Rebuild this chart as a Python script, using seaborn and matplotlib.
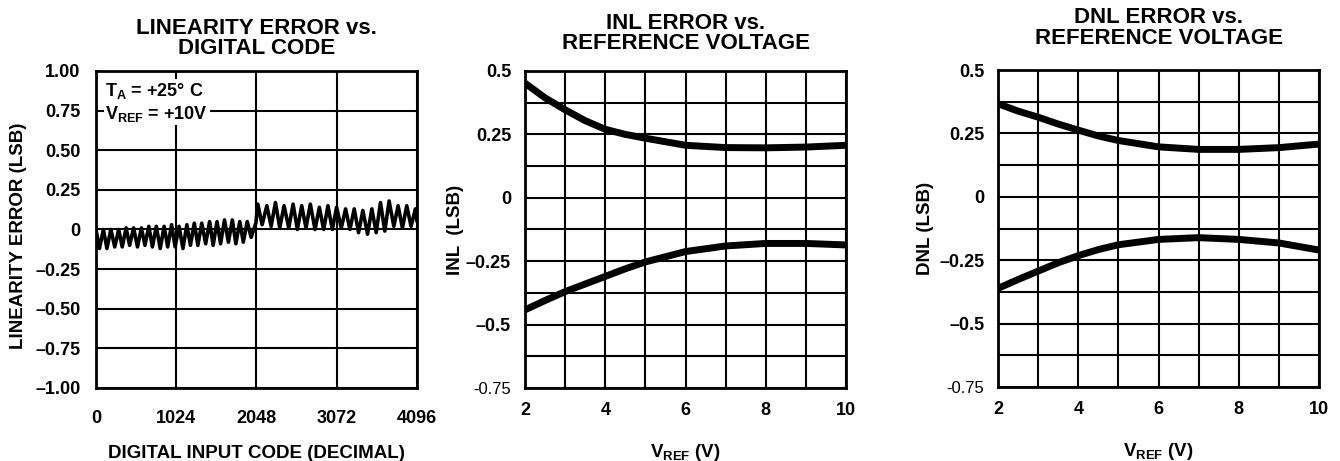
import pandas as pd
import matplotlib
matplotlib.use("Agg")
import matplotlib.pyplot as plt
import seaborn as sns

# ---- Linearity error vs. digital code (zigzag trace vertices) ----
peak_code = [0, 95, 190, 290, 385, 480, 580, 675, 770, 870, 965, 1060, 1160, 1255,
             1350, 1450, 1545, 1640, 1740, 1835, 1930, 2040,
             2065, 2180, 2290, 2400, 2515, 2625, 2735, 2850, 2960, 3070, 3185,
             3295, 3405, 3520, 3630, 3740, 3855, 3965, 4075]
peak_lsb = [0.0, 0.0, 0.0, 0.0, 0.01, 0.01, 0.01, 0.02, 0.02, 0.02, 0.03, 0.02, 0.03, 0.04,
            0.04, 0.05, 0.05, 0.06, 0.06, 0.05, 0.05, 0.04,
            0.16, 0.15, 0.17, 0.15, 0.16, 0.15, 0.16, 0.14, 0.15, 0.14, 0.13,
            0.13, 0.12, 0.13, 0.17, 0.18, 0.15, 0.15, 0.13]
trough_code = [45, 140, 240, 335, 430, 530, 625, 720, 820, 915, 1010, 1110, 1205,
               1300, 1400, 1495, 1590, 1690, 1785, 1880, 1980,
               2120, 2235, 2345, 2460, 2570, 2680, 2795, 2905, 3015, 3130, 3240,
               3350, 3465, 3575, 3685, 3800, 3910, 4020, 4096]
trough_lsb = [-0.12, -0.12, -0.11, -0.11, -0.10, -0.11, -0.10, -0.11, -0.12, -0.11, -0.11, -0.12, -0.10,
              -0.10, -0.09, -0.10, -0.09, -0.08, -0.09, -0.08, -0.05,
              0.03, 0.02, 0.01, 0.01, 0.00, 0.01, 0.00, 0.00, 0.00, 0.01, 0.00,
              -0.02, -0.03, -0.02, -0.01, 0.02, 0.01, 0.02, 0.05]

lin_ticks = [0, 1024, 2048, 3072, 4096]
lin_yticks = [-1.0, -0.75, -0.5, -0.25, 0, 0.25, 0.5, 0.75, 1.0]
lin_ylabels = ['\u20131.00', '\u20130.75', '\u20130.50', '\u20130.25', '0',
               '0.25', '0.50', '0.75', '1.00']

# ---- INL / DNL vs. reference voltage ----
vref = [2, 2.5, 3, 3.5, 4, 4.5, 5, 6, 7, 8, 9, 10]
inl_pos = [0.452, 0.394, 0.347, 0.304, 0.270, 0.250, 0.235, 0.207, 0.198, 0.197, 0.200, 0.207]
inl_neg = [-0.442, -0.405, -0.370, -0.340, -0.310, -0.280, -0.253, -0.212, -0.190, -0.180, -0.180, -0.186]
dnl_pos = [0.367, 0.338, 0.314, 0.287, 0.263, 0.240, 0.222, 0.197, 0.187, 0.187, 0.194, 0.208]
dnl_neg = [-0.361, -0.326, -0.293, -0.260, -0.232, -0.208, -0.189, -0.168, -0.161, -0.168, -0.182, -0.210]

v_ticks = [2, 4, 6, 8, 10]
v_grid = [2, 3, 4, 5, 6, 7, 8, 9, 10]
err_grid = [-0.75, -0.625, -0.5, -0.375, -0.25, -0.125, 0, 0.125, 0.25, 0.375, 0.5]
err_ticks = [-0.75, -0.5, -0.25, 0, 0.25, 0.5]
err_labels = ['-0.75', '\u20130.5', '\u20130.25', '0', '0.25', '0.5']

sns.set_style("white")
plt.rcParams['font.family'] = ['Liberation Sans', 'DejaVu Sans']
plt.rcParams['font.weight'] = 'bold'
plt.rcParams['text.color'] = 'black'
plt.rcParams['axes.labelcolor'] = 'black'
plt.rcParams['xtick.color'] = 'black'
plt.rcParams['ytick.color'] = 'black'
plt.rcParams['mathtext.fontset'] = 'custom'
plt.rcParams['mathtext.rm'] = 'Liberation Sans:bold'
plt.rcParams['mathtext.it'] = 'Liberation Sans:bold'
plt.rcParams['mathtext.bf'] = 'Liberation Sans:bold'
plt.rcParams['mathtext.default'] = 'rm'

fig = plt.figure(figsize=(13.4, 4.61), dpi=100)

lin_df = pd.concat([
    pd.DataFrame({'code': peak_code, 'lsb': peak_lsb}),
    pd.DataFrame({'code': trough_code, 'lsb': trough_lsb}),
]).sort_values('code')


def style_axes(ax, xpad, ypad):
    ax.set_axisbelow(True)
    ax.grid(True, color='black', lw=1.5)
    for s in ax.spines.values():
        s.set_color('black')
        s.set_linewidth(2.0)
    ax.tick_params(axis='both', length=0, labelsize=13, colors='black')
    ax.tick_params(axis='x', pad=xpad)
    ax.tick_params(axis='y', pad=ypad)


# panel 1
ax1 = fig.add_axes([0.0716, 0.1584, 0.2396, 0.6876])
sns.lineplot(data=lin_df, x='code', y='lsb', ax=ax1, color='black', lw=2.6,
             estimator=None, sort=False)
ax1.set_xlim(0, 4096)
ax1.set_ylim(-1, 1)
ax1.set_xticks(lin_ticks)
ax1.set_xticklabels([str(t) for t in lin_ticks])
ax1.set_yticks(lin_yticks)
ax1.set_yticklabels(lin_ylabels)
style_axes(ax1, 16, 11)
ax1.set_xlabel('DIGITAL INPUT CODE (DECIMAL)', fontsize=13.5, fontweight='bold')
ax1.set_ylabel('LINEARITY ERROR (LSB)', fontsize=13.5, fontweight='bold')
ax1.xaxis.set_label_coords(0.5, -0.18)
ax1.yaxis.set_label_coords(-0.215, 0.48)
ax1.set_title('LINEARITY ERROR vs.\nDIGITAL CODE', fontsize=16, fontweight='bold',
              pad=12, linespacing=0.95)
ax1.text(120, 0.94, '$T_A$ = +25\u00b0 C\n$V_{REF}$ = +10V', fontsize=13,
         fontweight='bold', va='top', ha='left', linespacing=1.2,
         bbox=dict(boxstyle='square,pad=0.1', fc='white', ec='none'), zorder=3)

# panels 2 and 3
panels = [
    (0.3918, 0.1584, inl_pos, inl_neg, 'INL  (LSB)', 'INL ERROR vs.\nREFERENCE VOLTAGE', 16, -0.19),
    (0.7448, 0.1605, dnl_pos, dnl_neg, 'DNL (LSB)', 'DNL ERROR vs.\nREFERENCE VOLTAGE', 19, -0.2),
]
for left, bottom, pos, neg, ylab, title, tpad, ylx in panels:
    ax = fig.add_axes([left, bottom, 0.2396, 0.6876])
    df = pd.DataFrame({'vref': vref + vref, 'err': pos + neg,
                       'curve': ['pos'] * len(vref) + ['neg'] * len(vref)})
    sns.lineplot(data=df, x='vref', y='err', units='curve', estimator=None, ax=ax,
                 color='black', lw=5, solid_capstyle='butt')
    ax.set_xlim(2, 10)
    ax.set_ylim(-0.75, 0.5)
    ax.set_xticks(v_grid)
    ax.set_xticklabels([str(v) if v in v_ticks else '' for v in v_grid])
    ax.set_yticks(err_grid)
    ax.set_yticklabels([err_labels[err_ticks.index(e)] if e in err_ticks else '' for e in err_grid])
    style_axes(ax, 10, 10)
    for lbl in ax.get_yticklabels():
        if lbl.get_text() == '-0.75':
            lbl.set_fontweight('normal')
            lbl.set_fontsize(12)
    ax.set_xlabel('V$_{REF}$ (V)', fontsize=13.5, fontweight='bold')
    ax.set_ylabel(ylab, fontsize=13.5, fontweight='bold')
    ax.xaxis.set_label_coords(0.5, -0.17)
    ax.yaxis.set_label_coords(ylx, 0.5)
    ax.set_title(title, fontsize=16, fontweight='bold', pad=tpad, linespacing=0.95)

fig.savefig('out.png', dpi=100, facecolor='white')
